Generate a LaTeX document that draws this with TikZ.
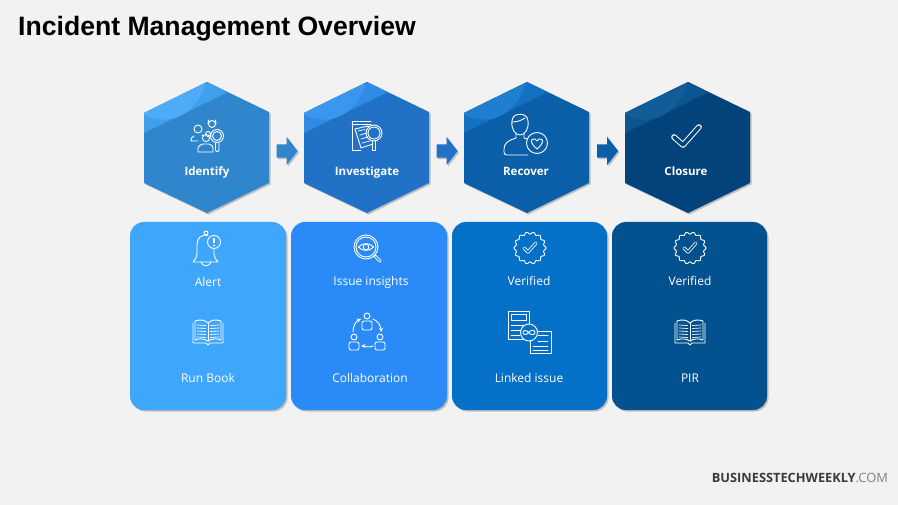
\documentclass[tikz,border=0pt]{standalone}
\usepackage{fontspec}
\setmainfont{Open Sans}
\newfontfamily\titlefont{Liberation Sans}
\usetikzlibrary{shadows,shapes.arrows}

\definecolor{pagegray}{HTML}{F2F2F2}
\definecolor{hexone}{HTML}{2F86CC}
\definecolor{hexonemid}{HTML}{3FA0EC}
\definecolor{hexonelight}{HTML}{4EABF7}
\definecolor{hextwo}{HTML}{2171C7}
\definecolor{hextwomid}{HTML}{2F8BE6}
\definecolor{hextwolight}{HTML}{3A97EE}
\definecolor{hexthree}{HTML}{0A5FA8}
\definecolor{hexthreemid}{HTML}{1470C2}
\definecolor{hexthreelight}{HTML}{1E7ED0}
\definecolor{hexfour}{HTML}{03437B}
\definecolor{hexfourmid}{HTML}{0B5590}
\definecolor{hexfourlight}{HTML}{125C98}
\definecolor{cardone}{HTML}{3EA6FB}
\definecolor{cardtwo}{HTML}{2A8BF8}
\definecolor{cardthree}{HTML}{0570C8}
\definecolor{cardfour}{HTML}{03528F}

\tikzset{
    softshadow/.style={drop shadow={opacity=0.45, shadow xshift=1.5pt, shadow yshift=-1.5pt}},
    cardbox/.style={rounded corners=14pt, softshadow},
    icon/.style={draw=white, line width=0.9pt, line join=round, line cap=round},
    steplabel/.style={anchor=base, text=white, font=\bfseries\fontsize{11.5}{13}\selectfont, inner sep=0pt},
    itemlabel/.style={anchor=base, text=white, font=\fontsize{12}{14}\selectfont, inner sep=0pt},
    blockarrow/.style={single arrow, minimum height=21pt, minimum width=28pt, single arrow head extend=7.5pt,
        single arrow tip angle=104, inner xsep=0pt, inner ysep=6.5pt, softshadow}
}

% hexagon: centre x, body, middle and light colour of the shine
\newcommand{\hexbox}[4]{
    \fill[#2, softshadow] (#1-63,113) -- (#1,82) -- (#1+62,112) -- (#1+62,183) -- (#1,213) -- (#1-63,183) -- cycle;
    \begin{scope}
        \clip (#1-63,113) -- (#1,82) -- (#1+62,112) -- (#1+62,183) -- (#1,213) -- (#1-63,183) -- cycle;
        \fill[#3] (#1-63,133) -- (#1+19,93) -- (#1+8,80) -- (#1-70,110) -- cycle;
        \fill[#4] (#1-63,115) .. controls (#1-32,128) and (#1-12,112) .. (#1-1,84) -- (#1-70,80) -- cycle;
    \end{scope}
}

\newcommand{\bookicon}[1]{
    \begin{scope}[shift={(#1)}]
        \draw[icon] (-15,-9) -- (-15,11) -- (-2,11) -- (0,13) -- (2,11) -- (15,11) -- (15,-9);
        \draw[icon] (-13,-11) .. controls (-8,-13) and (-3,-12) .. (0,-9) .. controls (3,-12) and (8,-13) .. (13,-11)
            -- (13,8) .. controls (8,6) and (3,7) .. (0,9) .. controls (-3,7) and (-8,6) .. (-13,8) -- cycle;
        \draw[icon] (0,-9) -- (0,9);
        \foreach \row in {-7,-4,-1,2,5} {
            \draw[icon, line width=0.7pt] (-11,\row) -- (-2.5,\row+0.5);
            \draw[icon, line width=0.7pt] (11,\row) -- (2.5,\row+0.5);
        }
    \end{scope}
}

% badge: centre, card colour
\newcommand{\badgeicon}[2]{
    \begin{scope}[shift={(#1)}]
        \draw[icon] plot[domain=0:360, samples=97, smooth] (\x:{15+1.1*cos(14*\x)}) -- cycle;
        \draw[draw=white, line width=0.8pt, double=#2, double distance=1.6pt, line cap=round, line join=round]
            (-6,0) -- (-2,4) -- (6,-5);
    \end{scope}
}

\begin{document}
\begin{tikzpicture}[x=1pt, y=-1pt]
    \useasboundingbox (0,0) rectangle (898,505);
    \fill[pagegray] (0,0) rectangle (898,505);

    \node[anchor=base west, inner sep=0pt, font=\titlefont\bfseries\fontsize{26.6}{30}\selectfont] (title) at (18,36) {Incident Management Overview};

    \hexbox{207}{hexone}{hexonemid}{hexonelight}
    \hexbox{367}{hextwo}{hextwomid}{hextwolight}
    \hexbox{527}{hexthree}{hexthreemid}{hexthreelight}
    \hexbox{688}{hexfour}{hexfourmid}{hexfourlight}

    \node[blockarrow, fill=hexone] (arrowone) at (284.5,151) {};
    \node[blockarrow, fill=hextwo] (arrowtwo) at (444.5,151) {};
    \node[blockarrow, fill=hexthree] (arrowthree) at (605,151) {};

    \fill[cardone, cardbox] (130,222) rectangle (286,410);
    \fill[cardtwo, cardbox] (291,222) rectangle (447,410);
    \fill[cardthree, cardbox] (452,222) rectangle (607,410);
    \fill[cardfour, cardbox] (612,222) rectangle (767,410);

    \node[steplabel] (identify) at (207,176) {Identify};
    \node[steplabel] (investigate) at (367,176) {Investigate};
    \node[steplabel] (recover) at (526,176) {Recover};
    \node[steplabel] (closure) at (686,176) {Closure};

    \node[itemlabel] (alert) at (208,287) {Alert};
    \node[itemlabel] (runbook) at (208,383) {Run Book};
    \node[itemlabel] (insights) at (371,286) {Issue insights};
    \node[itemlabel] (collab) at (370,382) {Collaboration};
    \node[itemlabel] (verifiedone) at (529,286) {Verified};
    \node[itemlabel] (linked) at (529,382) {Linked issue};
    \node[itemlabel] (verifiedtwo) at (690,286) {Verified};
    \node[itemlabel] (pir) at (690,382) {PIR};

    % identify: three people and a lens
    \draw[icon] (217,136) circle (6.5);
    \draw[icon] (217,136) circle (4.5);
    \draw[icon] (215.5,143) -- (215.5,150) -- (216.5,151.5) -- (218,151.5) -- (219,150) -- (219,143);
    \draw[icon] (198,129) circle (4);
    \draw[icon] (194,136) .. controls (191,137) and (191,139) .. (191,141) -- (198,141);
    \draw[icon] (202,135) -- (204,136);
    \draw[icon] (206,138) circle (3.6);
    \draw[icon] (198,152) -- (198,148) .. controls (198,146) and (200,145) .. (203,144) -- (209,144) .. controls (212,145) and (213,146) .. (213,148) -- (213,152) -- cycle;
    \draw[icon] (212,124) circle (3.5);
    \draw[icon] (208.5,120) -- (208,124) (215.5,120) -- (216,124);
    \draw[icon] (208,134) circle (2.5);

    % investigate: sheets and a lens
    \draw[icon] (371,121) -- (352,121) -- (352,150) -- (361,150);
    \draw[icon] (352,124) -- (371,124);
    \draw[icon] (355,129) -- (368,126) -- (369,128);
    \draw[icon] (355,129) -- (361,148) -- (373,144);
    \draw[icon, line width=0.7pt] (358,131) -- (365,129.5) (360,135) -- (367,133) (361,139) -- (368,137) (362,143) -- (370,141);
    \draw[icon] (374,133) circle (8);
    \draw[icon] (374,133) circle (6);
    \draw[icon] (372.5,141) -- (372.5,150) -- (375.5,150) -- (375.5,141);

    % recover: person and heart
    \draw[icon] (512,121) .. controls (512,112) and (528,112) .. (528,121) .. controls (529,129) and (525,135) .. (520,135) .. controls (515,135) and (511,129) .. (512,121) -- cycle;
    \draw[icon] (512,122) .. controls (518,122) and (522,120) .. (525,118);
    \draw[icon] (516,134) -- (516,138) .. controls (509,140) and (504,143) .. (504,149) -- (504,152) .. controls (504,154) and (505,155) .. (507,155) -- (528,155);
    \draw[icon] (524,134) -- (524,138) -- (527,139);
    \draw[icon] (537,143) circle (10.5);
    \draw[icon] (537,149) .. controls (531,144) and (531,141) .. (532,139.5) .. controls (534,138) and (536,139) .. (537,141) .. controls (538,139) and (540,138) .. (542,139.5) .. controls (543,141) and (543,144) .. (537,149) -- cycle;

    % closure: check
    \draw[draw=white, line width=1pt, double=hexfour, double distance=3.6pt, line cap=round, line join=round]
        (674,137) -- (683,145) -- (699,127);

    % alert: bell
    \draw[icon] (206,233) circle (2);
    \draw[icon] (208,235.5) .. controls (201,234) and (197,238) .. (197,245) -- (197,253) .. controls (197,257) and (195,260) .. (193,262) -- (218,262) .. controls (216,260) and (214,257) .. (214,253) -- (214,249);
    \draw[icon] (201,262) .. controls (202,267) and (210,267) .. (211,262);
    \draw[icon] (214,242) circle (6.5);
    \draw[white, line width=1.7pt, line cap=round] (214,238.5) -- (214,242.5);
    \fill[white] (214,245.5) circle (1);

    % insights: eye in a lens
    \draw[icon] (366,247) circle (12);
    \draw[icon] (366,247) circle (10);
    \draw[icon] (358.5,247) .. controls (362,242.5) and (370,242.5) .. (373.5,247) .. controls (370,251.5) and (362,251.5) .. (358.5,247) -- cycle;
    \draw[icon] (366,247) circle (2.8);
    \draw[white, line width=3pt, line cap=round] (375,256) -- (380,261);
    \draw[cardtwo, line width=1.4pt, line cap=round] (375.5,256.5) -- (380,261);

    % collaboration: three people in a round
    \draw[icon] (367,316) circle (3);
    \draw[icon, rounded corners=2pt] (362,330) -- (362,321) -- (372,321) -- (372,330) -- cycle;
    \draw[icon] (354,337) circle (3);
    \draw[icon, rounded corners=2pt] (349,350) -- (349,342) -- (359,342) -- (359,350) -- cycle;
    \draw[icon] (380,337) circle (3);
    \draw[icon, rounded corners=2pt] (375,350) -- (375,342) -- (385,342) -- (385,350) -- cycle;
    \draw[icon, -stealth] (353,332) .. controls (353,326) and (356,321) .. (361,319);
    \draw[icon, -stealth] (373,319) .. controls (378,321) and (381,326) .. (381,332);
    \draw[icon, -stealth] (373,346) .. controls (369,348) and (365,346) .. (361,346);

    % linked issue: two sheets joined
    \draw[icon] (508,311) rectangle (529,339);
    \draw[icon] (511,314) rectangle (526,320);
    \draw[icon] (511,325) -- (526,325) (511,330) -- (521,330) (511,335) -- (520,335);
    \draw[icon] (530,331) rectangle (551,353);
    \draw[icon] (538,335) -- (548,335) (538,341) -- (548,341) (533,346) -- (548,346) (533,350) -- (548,350);
    \draw[icon, fill=cardthree] (529,332.5) circle (8.5);
    \draw[icon] (529,333) .. controls (527,329.5) and (523,330) .. (523,332.5) .. controls (523,335) and (527,335.5) .. (529,332) .. controls (531,329.5) and (535,330) .. (535,332.5) .. controls (535,335) and (531,335.5) .. (529,333);

    \badgeicon{530,248}{cardthree}
    \badgeicon{690,248}{cardfour}
    \bookicon{208,332}
    \bookicon{690,332}

    \node[anchor=east, inner sep=0pt, font=\fontsize{12.8}{14}\selectfont] (brand) at (888,478) {\textcolor[HTML]{3A3A3A}{\bfseries BUSINESSTECHWEEKLY}\textcolor[HTML]{7F7F7F}{.COM}};
\end{tikzpicture}
\end{document}
